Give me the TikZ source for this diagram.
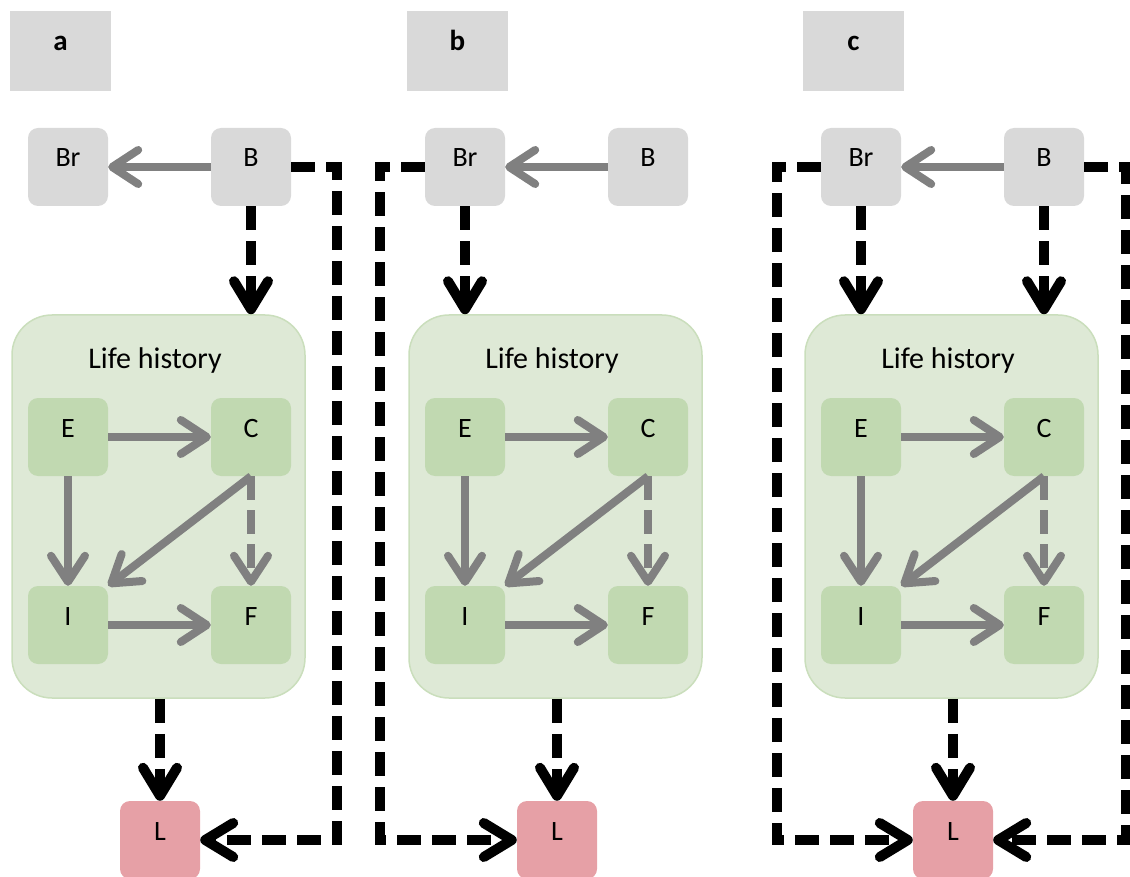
\documentclass[tikz,border=0pt]{standalone}
\usepackage{fontspec}
\setmainfont{Carlito}
\usetikzlibrary{arrows.meta,calc}
\definecolor{boxgray}{HTML}{D9D9D9}
\definecolor{lhfill}{HTML}{DEE9D6}
\definecolor{lhdraw}{HTML}{CADEBC}
\definecolor{innerg}{HTML}{C1D9B1}
\definecolor{lpink}{HTML}{E6A0A6}
\definecolor{arrgray}{HTML}{808080}
\begin{document}
\begin{tikzpicture}[x=1pt,y=-1pt,
  box/.style={rounded corners=10pt, minimum width=80pt, minimum height=78pt,
    inner sep=0pt, font=\fontsize{28}{32}\selectfont, text height=12pt, text depth=12pt},
  topbox/.style={box, fill=boxgray},
  innerbox/.style={box, fill=innerg},
  lbox/.style={box, fill=lpink},
  labelbox/.style={rectangle, fill=boxgray, minimum width=101pt, minimum height=80pt,
    inner sep=0pt, font=\fontsize{29}{32}\selectfont\bfseries, text height=12pt, text depth=12pt},
  lhbox/.style={rounded corners=40pt, fill=lhfill, draw=lhdraw, line width=1.5pt,
    minimum width=293pt, minimum height=383pt, inner sep=0pt},
  lhtitle/.style={anchor=base, inner sep=0pt, font=\fontsize{30}{34}\selectfont},
  garrow/.style={draw=arrgray, line width=8pt, -{Straight Barb[length=26pt,width=34pt,round]}},
  gdash/.style={dash pattern=on 24pt off 10pt},
  darrow/.style={draw=black, line width=10pt, dash pattern=on 24pt off 11pt,
    -{Straight Barb[length=28pt,width=34pt,round]}}
]
\useasboundingbox (0,0) rectangle (1130,877);
\foreach \o/\p in {0/a,397/b,793/c}{
  \node[labelbox] (lab\p) at (\o+60.5,51) {\p};
  \node[topbox] (Br\p) at (\o+68,167) {Br};
  \node[topbox] (B\p) at (\o+251,167) {B};
  \node[lhbox] (LH\p) at (\o+158.5,506.5) {};
  \node[lhtitle] (LHt\p) at (\o+155,368) {Life history};
  \node[innerbox] (E\p) at (\o+68,437) {E};
  \node[innerbox] (C\p) at (\o+251,437) {C};
  \node[innerbox] (I\p) at (\o+68,625) {I};
  \node[innerbox] (F\p) at (\o+251,625) {F};
  \node[lbox] (L\p) at (\o+160,840) {L};
  \draw[garrow] (E\p) -- (C\p);
  \draw[garrow] (E\p) -- (I\p);
  \draw[garrow] (C\p.south) -- (I\p.north east);
  \draw[garrow, gdash] (C\p) -- (F\p);
  \draw[garrow] (I\p) -- (F\p);
  \draw[garrow] (B\p) -- (Br\p);
  \draw[darrow] (L\p.north |- LH\p.south) -- (L\p.north);
}
% panel a
\coordinate (ra) at (337,840);
\draw[darrow] (Ba.south) -- (Ba.south |- LHa.north);
\draw[darrow] (Ba.east) -| (ra) -- (La.east);
% panel b
\coordinate (lb) at (380,840);
\draw[darrow] (Brb.south) -- (Brb.south |- LHb.north);
\draw[darrow] (Brb.west) -| (lb) -- (Lb.west);
% panel c
\coordinate (lc) at (777,840);
\coordinate (rc) at (1126,840);
\draw[darrow] (Brc.south) -- (Brc.south |- LHc.north);
\draw[darrow] (Bc.south) -- (Bc.south |- LHc.north);
\draw[darrow] (Brc.west) -| (lc) -- (Lc.west);
\draw[darrow] (Bc.east) -| (rc) -- (Lc.east);
\end{tikzpicture}
\end{document}
